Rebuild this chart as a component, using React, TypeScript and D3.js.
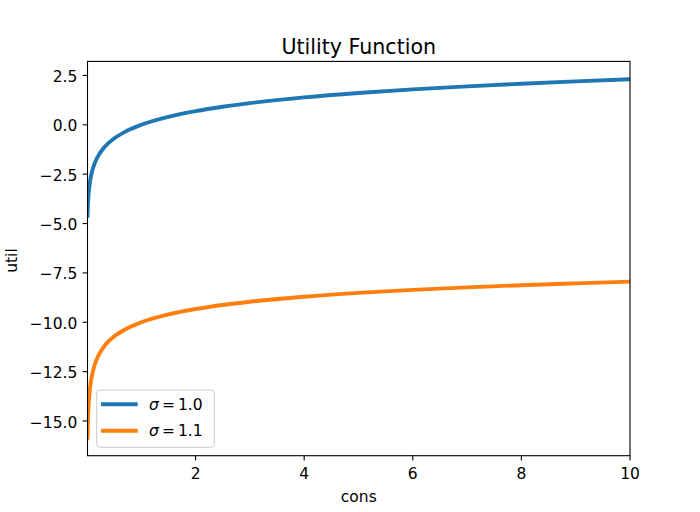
import React from "react";
import * as d3 from "d3";

const cons = [0.01, 0.015, 0.02, 0.03, 0.04, 0.05, 0.07, 0.1, 0.15, 0.2, 0.3, 0.4, 0.5, 0.7, 1, 1.5, 2, 2.5, 3, 4, 5, 6, 7, 8, 9, 10];
const util10 = [-4.605, -4.2, -3.912, -3.507, -3.219, -2.996, -2.659, -2.303, -1.897, -1.609, -1.204, -0.916, -0.693, -0.357, 0, 0.405, 0.693, 0.916, 1.099, 1.386, 1.609, 1.792, 1.946, 2.079, 2.197, 2.303];
const util11 = [-15.849, -15.22, -14.788, -14.2, -13.797, -13.493, -13.046, -12.589, -12.089, -11.746, -11.279, -10.96, -10.718, -10.363, -10, -9.603, -9.33, -9.125, -8.96, -8.706, -8.513, -8.36, -8.232, -8.123, -8.028, -7.943];
const xTicks = [2, 4, 6, 8, 10];
const yTicks = [2.5, 0, -2.5, -5, -7.5, -10, -12.5, -15];
const seriesNames = ["1.0", "1.1"];
const colors = ["#1f77b4", "#ff7f0e"];

const W = 700, H = 512;
const L = 87.5, R = 630, T = 61.4, B = 455.7;
const font = "DejaVu Sans, sans-serif";
const fs = 15.5;

export default function App() {
  const allY = [...util10, ...util11];
  const ymin = d3.min(allY)!, ymax = d3.max(allY)!;
  const pad = (ymax - ymin) * 0.05;
  const x = d3.scaleLinear().domain([cons[0], cons[cons.length - 1]]).range([L, R]);
  const y = d3.scaleLinear().domain([ymin - pad, ymax + pad]).range([B, T]);
  const line = d3.line<[number, number]>().x(d => x(d[0])).y(d => y(d[1])).curve(d3.curveMonotoneX);
  const series = [util10, util11];
  const fmt = (v: number) => (v < 0 ? "\u2212" : "") + Math.abs(v).toFixed(1);
  return (
    <svg width={W} height={H} style={{ position: "absolute", left: 0, top: 0 }} fontFamily={font}>
      <rect width={W} height={H} fill="white" />
      <defs>
        <clipPath id="clip"><rect x={L} y={T} width={R - L} height={B - T} /></clipPath>
      </defs>
      <g clipPath="url(#clip)">
        {series.map((s, i) => (
          <path key={i} d={line(cons.map((c, j) => [c, s[j]] as [number, number]))!} fill="none" stroke={colors[i]} strokeWidth={3.9} strokeLinecap="square" />
        ))}
      </g>
      <rect x={L} y={T} width={R - L} height={B - T} fill="none" stroke="black" strokeWidth={1.1} />
      {xTicks.map(t => (
        <g key={t} transform={`translate(${x(t)},${B})`}>
          <line y2={4.86} stroke="black" strokeWidth={1.1} />
          <text y={23.3} textAnchor="middle" fontSize={fs}>{t}</text>
        </g>
      ))}
      {yTicks.map(t => (
        <g key={t} transform={`translate(${L},${y(t)})`}>
          <line x2={-4.86} stroke="black" strokeWidth={1.1} />
          <text x={-10.2} dy="0.42em" textAnchor="end" fontSize={fs}>{fmt(t)}</text>
        </g>
      ))}
      <text x={(L + R) / 2} y={54} textAnchor="middle" fontSize={20.6}>Utility Function</text>
      <text x={(L + R) / 2} y={501.5} textAnchor="middle" fontSize={fs}>cons</text>
      <text transform={`translate(16.7,${(T + B) / 2 + 2}) rotate(-90)`} textAnchor="middle" fontSize={fs}>util</text>
      <g>
        <rect x={96.7} y={390} width={117.6} height={57.3} rx={3} fill="white" fillOpacity={0.8} stroke="#cccccc" strokeWidth={1} />
        {seriesNames.map((n, i) => (
          <g key={n} transform={`translate(0,${404.3 + i * 26.4})`}>
            <line x1={101} x2={137.7} stroke={colors[i]} strokeWidth={3.9} strokeLinecap="butt" />
            <text x={149} y={0} dy="0.36em" fontSize={fs}>
              <tspan fontStyle="italic">σ</tspan>
              <tspan x={162}>=</tspan>
              <tspan x={178}>{n}</tspan>
            </text>
          </g>
        ))}
      </g>
    </svg>
  );
}
